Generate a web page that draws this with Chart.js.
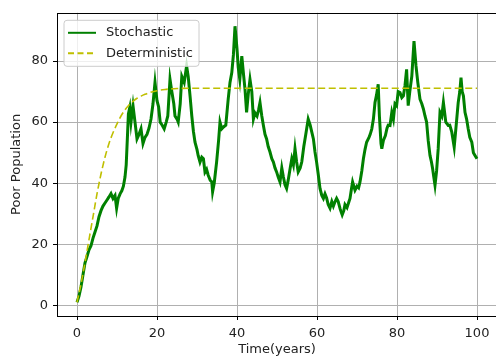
<!DOCTYPE html>
<html><head><meta charset="utf-8">
<script src="https://cdn.jsdelivr.net/npm/chart.js@4"></script>
<style>html,body{margin:0;padding:0;background:#fff;overflow:hidden}canvas{display:block}</style>
</head><body>
<canvas id="c" width="500" height="359"></canvas>
<script>
const seriesNames = ['Stochastic', 'Deterministic'];
const xTitle = 'Time(years)';
const yTitle = 'Poor Population';
const xTicks = [0, 20, 40, 60, 80, 100];
const yTicks = [0, 20, 40, 60, 80];

const stochTime = [0,0.5,1,1.5,2,2.5,3,3.5,4,4.5,5,5.5,6,6.5,7,7.5,8,8.5,9,9.5,9.9,10.3,10.8,11.2,11.6,12,12.3,12.6,12.85,13.2,13.5,14,14.5,15,15.5,16,16.5,17,17.5,18,18.5,19,19.5,20,20.4,20.8,21.3,21.8,22.3,22.7,23.25,23.7,24.2,24.5,25,25.3,25.8,26.2,26.8,27.4,27.8,28.3,28.7,29.1,29.5,30,30.3,30.75,31.2,31.6,32,32.4,32.8,33.3,33.7,33.9,34.3,34.9,35.4,35.75,36.2,36.7,37.2,37.8,38.25,38.7,39.1,39.5,40,40.3,40.7,41.2,41.6,42,42.4,42.8,43.25,43.7,44.1,44.5,45,45.4,45.75,46.2,46.6,47,47.4,47.8,48.25,48.7,49.1,49.5,49.9,50.3,50.75,51.2,51.6,52,52.4,52.8,53.3,53.7,54.1,54.5,54.9,55.3,55.8,56.2,56.7,57.2,57.8,58.3,58.7,59.1,59.5,59.9,60.3,60.75,61.2,61.6,62,62.4,62.8,63.25,63.7,64.1,64.5,64.9,65.3,65.8,66.3,66.7,67,67.5,68,68.25,68.6,68.9,69.5,70,70.4,70.75,71.2,71.6,72,72.4,73,73.3,73.7,74.1,74.5,74.9,75.3,75.6,76,76.2,76.6,77.1,77.5,77.8,78.25,78.7,79.1,79.5,79.9,80.3,80.75,81.2,81.6,82,82.4,82.8,83.2,83.7,84.25,84.75,85.2,85.75,86.2,86.6,87,87.4,87.8,88.25,88.6,88.9,89.2,89.5,89.9,90.3,90.75,91.2,91.6,92.2,92.8,93.2,93.7,94.3,94.8,95.3,95.7,96,96.3,96.6,97,97.4,97.8,98.2,98.7,99.1,99.5,100];
const stochValue = [1,3,6,10,13.9,16,18.2,19.5,22,24,26,29,31,32.5,33.5,34.5,35.5,36.6,35,36,31.8,35,36.6,37.5,39,42,46,55,62.7,64.8,60,65.4,60,54.5,56,57.8,53,55,56,58,61,66,73,67,65,60,59,57.8,60,62,74,70,66,62,61,60,66,75,73,78.4,75,68,62,57,53.4,51,49,46.9,48.5,48,43.6,44.5,42.6,41,40.4,37.2,40,46.9,54,60,57.8,58.5,59,67.5,73,76.2,82,91.4,84,78,74,81.6,76,70.8,63.2,69,74,70,61,63,62,64,66.4,62,58.9,56,54.5,52,50.2,48,46.9,45,43.7,42,40.4,45,42,39.5,38.3,41,45,48,46,51.3,47,43.7,45,47,52,56,61,59,56.7,54.5,50.2,46.9,43,38.3,36,35,36.5,35.2,33,31.8,34,32.5,33.9,35,34,31.5,29.6,31,33,32,34,35,38,40.4,37.7,39,38.5,40.4,44,48,51,53.4,55,56,57.8,61,66.4,69,72.4,62,53,51.3,54,55.6,58,59,58.9,63.2,61,66,65.4,70,69.7,68,68.6,72,77.3,65.4,70,75,86.5,78.4,73,67.5,66,64.3,62,60,54,49.1,47,44.8,42,39.3,44,51.3,63.2,62,66.4,60,58.9,59,56.7,51.8,59,66.4,70,74.6,70,68.6,63.2,61,57.8,55,53.4,50,49.1,48];

const detTime = [0,1,2,3,4,5,6,7,8,9,10,11,12,13,14,15,16,17,18,20,22,25,30,40,50,60,70,80,90,100];
const detValue = [1,7,14,21.5,29,36.5,43,48.5,53,56.5,59.4,62,64,65.6,66.8,67.8,68.5,69.1,69.6,70.3,70.7,71,71.1,71.1,71.1,71.1,71.1,71.1,71.1,71.1];

const toXY = (xs, ys) => xs.map((x, i) => ({x: x, y: ys[i]}));
const FONT = 'DejaVu Sans';
const FSIZE = 13;
const stochColor = '#008000';
const detColor = '#bfbf00';

const framePlugin = {
  id: 'frameLegend',
  afterDraw(chart) {
    const {ctx, chartArea: a} = chart;
    ctx.save();
    ctx.strokeStyle = '#000';
    ctx.lineWidth = 1;
    const L = Math.round(a.left) + 0.5, T = Math.round(a.top) + 0.5;
    const R = Math.round(a.right) + 0.5, B = Math.round(a.bottom) + 0.5;
    ctx.strokeRect(L, T, R - L, B - T);
    // legend box
    const lx = a.left + 7, ly = a.top + 7.5, lw = 135, lh = 46, r = 3;
    ctx.beginPath();
    ctx.moveTo(lx + r, ly);
    ctx.arcTo(lx + lw, ly, lx + lw, ly + lh, r);
    ctx.arcTo(lx + lw, ly + lh, lx, ly + lh, r);
    ctx.arcTo(lx, ly + lh, lx, ly, r);
    ctx.arcTo(lx, ly, lx + lw, ly, r);
    ctx.closePath();
    ctx.fillStyle = 'rgba(255,255,255,0.8)';
    ctx.fill();
    ctx.strokeStyle = '#cccccc';
    ctx.stroke();
    const entries = [
      {name: seriesNames[0], color: stochColor, dash: []},
      {name: seriesNames[1], color: detColor, dash: [6, 3.5]}
    ];
    entries.forEach((e, i) => {
      const y = ly + 12.5 + i * 20.5;
      ctx.beginPath();
      ctx.setLineDash(e.dash);
      ctx.strokeStyle = e.color;
      ctx.lineWidth = 2;
      ctx.moveTo(lx + 4, y);
      ctx.lineTo(lx + 32, y);
      ctx.stroke();
      ctx.setLineDash([]);
      ctx.fillStyle = '#222';
      ctx.font = FSIZE + 'px "' + FONT + '"';
      ctx.textBaseline = 'middle';
      ctx.textAlign = 'left';
      ctx.fillText(e.name, lx + 42, y);
    });
    ctx.restore();
  }
};

new Chart(document.getElementById('c'), {
  type: 'line',
  data: {
    datasets: [
      {label: seriesNames[1], data: toXY(detTime, detValue), borderColor: detColor, borderWidth: 1.6,
       borderDash: [7, 3.5], pointRadius: 0, tension: 0.4, cubicInterpolationMode: 'monotone', fill: false, order: 0},
      {label: seriesNames[0], data: toXY(stochTime, stochValue), borderColor: stochColor, borderWidth: 3,
       pointRadius: 0, tension: 0, fill: false, order: 1}
    ]
  },
  options: {
    responsive: false,
    animation: false,
    events: [],
    layout: {padding: {top: 12, right: 3, bottom: 0, left: 0}},
    plugins: {legend: {display: false}, tooltip: {enabled: false}},
    scales: {
      x: {
        type: 'linear', min: -5, max: 105,
        afterBuildTicks: s => { s.ticks = xTicks.map(v => ({value: v})); },
        afterFit: s => { s.height = 43; },
        border: {display: false},
        grid: {color: '#b0b0b0', lineWidth: 1, tickLength: 4, tickColor: '#000', tickWidth: 1},
        ticks: {color: '#222', font: {family: FONT, size: FSIZE}, padding: 6, maxRotation: 0, autoSkip: false},
        title: {display: true, text: xTitle, color: '#222', font: {family: FONT, size: FSIZE}, padding: {top: 0, bottom: 2}}
      },
      y: {
        type: 'linear', min: -3.5, max: 95.8,
        afterBuildTicks: s => { s.ticks = yTicks.map(v => ({value: v})); },
        afterFit: s => { s.width = 57; },
        border: {display: false},
        grid: {color: '#b0b0b0', lineWidth: 1, tickLength: 4, tickColor: '#000', tickWidth: 1},
        ticks: {color: '#222', font: {family: FONT, size: FSIZE}, padding: 5, autoSkip: false},
        title: {display: true, text: yTitle, color: '#222', font: {family: FONT, size: FSIZE}, padding: {top: 9, bottom: 0}}
      }
    }
  },
  plugins: [framePlugin]
});
</script>
</body></html>
